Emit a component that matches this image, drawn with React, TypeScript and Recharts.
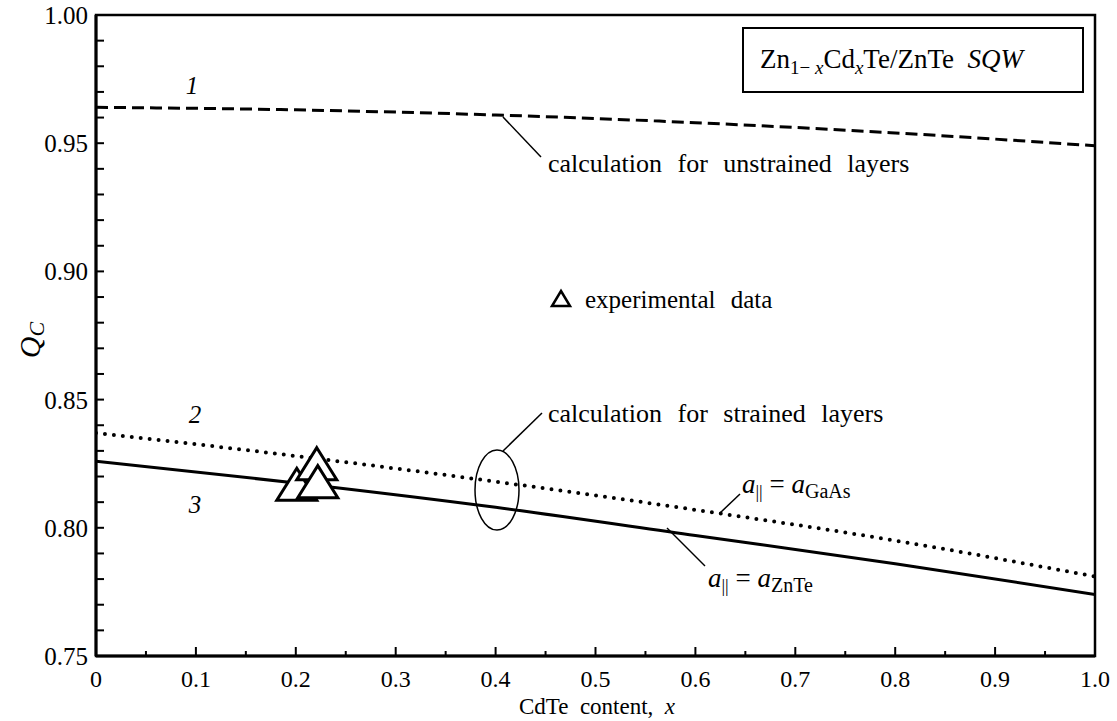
import React from 'react';
import { ComposedChart, Line, Scatter, XAxis, YAxis } from 'recharts';

const xValues = [0, 0.2, 0.4, 0.6, 0.8, 1.0];
const unstrained = [0.964, 0.963, 0.961, 0.958, 0.954, 0.949];
const strainedGaAs = [0.837, 0.828, 0.818, 0.807, 0.795, 0.781];
const strainedZnTe = [0.826, 0.8175, 0.808, 0.797, 0.786, 0.774];

const expX = [0.201, 0.221, 0.222];
const expY = [0.817, 0.825, 0.818];

const xTicks = [0, 0.05, 0.1, 0.15, 0.2, 0.25, 0.3, 0.35, 0.4, 0.45, 0.5, 0.55, 0.6, 0.65, 0.7, 0.75, 0.8, 0.85, 0.9, 0.95, 1.0];
const yTicks = [0.75, 0.76, 0.77, 0.78, 0.79, 0.8, 0.81, 0.82, 0.83, 0.84, 0.85, 0.86, 0.87, 0.88, 0.89, 0.9, 0.91, 0.92, 0.93, 0.94, 0.95, 0.96, 0.97, 0.98, 0.99, 1.0];

const curveData = xValues.map((x, i) => ({
  x,
  unstrained: unstrained[i],
  gaas: strainedGaAs[i],
  znte: strainedZnTe[i],
}));
const expData = expX.map((x, i) => ({ x, y: expY[i] }));

const W = 1117;
const H = 721;
const M = { top: 15, right: 22, bottom: 0, left: 0 };
const FONT = "'Liberation Serif', 'Times New Roman', 'DejaVu Serif', serif";
const Y_TM = 8;
const X_TM = 14;
const PLOT_LEFT = 96;
const PLOT_BOTTOM = 656;

const serif = { fontFamily: FONT } as const;

const renderYTick = (props: any) => {
  const { y, payload } = props;
  const v = payload.value as number;
  const major = Math.round(v * 100) % 5 === 0;
  return (
    <g key={`yt-${v}`}>
      <line x1={PLOT_LEFT} x2={PLOT_LEFT + 8} y1={y} y2={y} stroke="#000" strokeWidth={2} />
      {major && (
        <text x={PLOT_LEFT - Y_TM} y={y} dy="0.36em" textAnchor="end" fontFamily={FONT} style={serif} fontSize={25} fill="#000">
          {v.toFixed(2)}
        </text>
      )}
    </g>
  );
};

const renderXTick = (props: any) => {
  const { x, payload } = props;
  const v = payload.value as number;
  const major = Math.round(v * 100) % 10 === 0;
  return (
    <g key={`xt-${v}`}>
      <line x1={x} x2={x} y1={PLOT_BOTTOM} y2={PLOT_BOTTOM - (major ? 9 : 5)} stroke="#000" strokeWidth={2} />
      {major && (
        <text x={x} y={PLOT_BOTTOM + X_TM} dy="0.71em" textAnchor="middle" fontFamily={FONT} style={serif} fontSize={24} fill="#000">
          {v === 0 ? '0' : v.toFixed(1)}
        </text>
      )}
    </g>
  );
};

const TriangleShape = (props: any) => {
  const { cx, cy } = props;
  const w = 40;
  const h = 32;
  const pts = `${cx},${cy - h / 2} ${cx + w / 2},${cy + h / 2} ${cx - w / 2},${cy + h / 2}`;
  return <polygon points={pts} fill="#fff" stroke="#000" strokeWidth={3} strokeLinejoin="miter" />;
};

const txt = { fontFamily: FONT, fill: '#000' } as const;

export default function App() {
  return (
    <div style={{ position: 'absolute', left: 0, top: 0, width: W, height: H, background: '#fff', fontFamily: FONT }}>
      <ComposedChart width={W} height={H} data={curveData} margin={M} style={serif}>
        <XAxis
          dataKey="x"
          type="number"
          domain={[0, 1]}
          ticks={xTicks}
          interval={0}
          tickSize={0}
          tickMargin={X_TM}
          tick={renderXTick}
          height={65}
          fontFamily={FONT}
          axisLine={{ stroke: '#000', strokeWidth: 3 }}
          tickLine={false}
          allowDataOverflow
        />
        <YAxis
          type="number"
          domain={[0.75, 1.0]}
          ticks={yTicks}
          interval={0}
          tickSize={0}
          tickMargin={Y_TM}
          tick={renderYTick}
          width={96}
          fontFamily={FONT}
          axisLine={{ stroke: '#000', strokeWidth: 3 }}
          tickLine={false}
          allowDataOverflow
        />
        <Line
          type="monotone"
          dataKey="unstrained"
          stroke="#000"
          strokeWidth={3}
          strokeDasharray="12 6"
          dot={false}
          isAnimationActive={false}
        />
        <Line
          type="monotone"
          dataKey="gaas"
          stroke="#000"
          strokeWidth={4}
          strokeDasharray="0 9"
          strokeLinecap="round"
          dot={false}
          isAnimationActive={false}
        />
        <Line
          type="monotone"
          dataKey="znte"
          stroke="#000"
          strokeWidth={3}
          dot={false}
          isAnimationActive={false}
        />
        <Scatter data={expData} dataKey="y" shape={TriangleShape} isAnimationActive={false} />
      </ComposedChart>
      <svg
        width={W}
        height={H}
        style={{ position: 'absolute', left: 0, top: 0, pointerEvents: 'none' }}
      >
        <rect x={96} y={15} width={999} height={641} fill="none" stroke="#000" strokeWidth={2.5} />

        {/* legend box */}
        <rect x={743} y={28} width={340} height={64} fill="none" stroke="#000" strokeWidth={2} />
        <text x={760} y={68} fontSize={27} {...txt} style={{ whiteSpace: 'pre' }}>
          Zn
          <tspan fontSize={19} dy={6}>1− </tspan>
          <tspan fontSize={19} fontStyle="italic">x</tspan>
          <tspan dy={-6}>Cd</tspan>
          <tspan fontSize={19} fontStyle="italic" dy={6}>x</tspan>
          <tspan dy={-6}>Te/ZnTe  </tspan>
          <tspan fontStyle="italic">SQW</tspan>
        </text>

        {/* curve numbers */}
        <text x={192} y={94} fontSize={25} fontStyle="italic" textAnchor="middle" {...txt}>1</text>
        <text x={195} y={423} fontSize={25} fontStyle="italic" textAnchor="middle" {...txt}>2</text>
        <text x={195} y={513} fontSize={25} fontStyle="italic" textAnchor="middle" {...txt}>3</text>

        {/* unstrained annotation */}
        <line x1={503} y1={117} x2={541} y2={157} stroke="#000" strokeWidth={1.5} />
        <text x={548} y={172} fontSize={26} wordSpacing={9} {...txt}>calculation for unstrained layers</text>

        {/* experimental data */}
        <polygon points="561,291 570,306 552,306" fill="none" stroke="#000" strokeWidth={2.5} />
        <text x={585} y={308} fontSize={25} wordSpacing={9} {...txt}>experimental data</text>

        {/* strained annotation */}
        <ellipse cx={497} cy={490} rx={22} ry={40} fill="none" stroke="#000" strokeWidth={1.5} />
        <line x1={503} y1={451} x2={542} y2={413} stroke="#000" strokeWidth={1.5} />
        <text x={548} y={422} fontSize={26} wordSpacing={9} {...txt}>calculation for strained layers</text>

        {/* a|| = aGaAs */}
        <line x1={720} y1={513} x2={740} y2={494} stroke="#000" strokeWidth={1.5} />
        <text x={742} y={493} fontSize={27} {...txt} style={{ whiteSpace: 'pre' }}>
          <tspan fontStyle="italic">a</tspan>
          <tspan fontSize={18} dy={5}>||</tspan>
          <tspan dy={-5}> = </tspan>
          <tspan fontStyle="italic">a</tspan>
          <tspan fontSize={20} dy={5}>GaAs</tspan>
        </text>

        {/* a|| = aZnTe */}
        <line x1={667} y1={528} x2={705} y2={566} stroke="#000" strokeWidth={1.5} />
        <text x={708} y={587} fontSize={27} {...txt} style={{ whiteSpace: 'pre' }}>
          <tspan fontStyle="italic">a</tspan>
          <tspan fontSize={18} dy={5}>||</tspan>
          <tspan dy={-5}> = </tspan>
          <tspan fontStyle="italic">a</tspan>
          <tspan fontSize={20} dy={5}>ZnTe</tspan>
        </text>

        {/* axis titles */}
        <text x={597} y={714} fontSize={23} textAnchor="middle" {...txt} style={{ whiteSpace: 'pre' }}>
          CdTe  content,  <tspan fontStyle="italic">x</tspan>
        </text>
        <text transform="translate(40,340) rotate(-90)" fontSize={30} textAnchor="middle" fontStyle="italic" {...txt}>
          Q<tspan fontSize={22} dy={4}>C</tspan>
        </text>
      </svg>
    </div>
  );
}
